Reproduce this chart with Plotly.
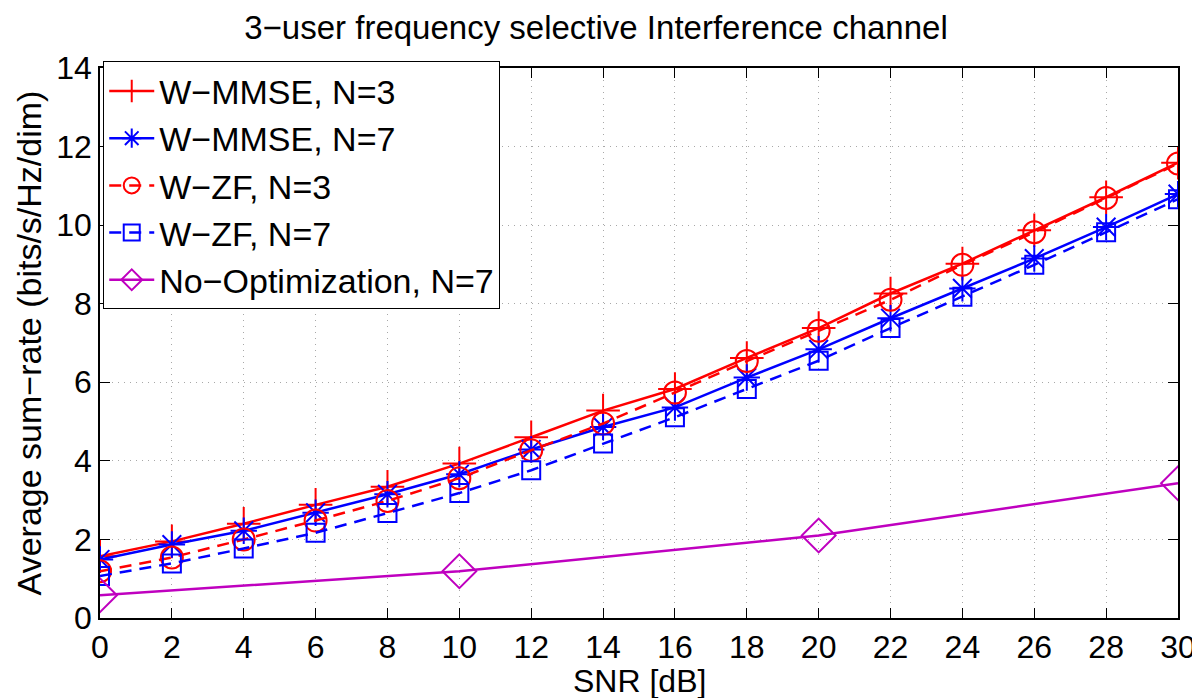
import plotly.graph_objects as go

# SNR points (dB)
snr = [0, 2, 4, 6, 8, 10, 12, 14, 16, 18, 20, 22, 24, 26, 28, 30]
snr_noopt = [0, 10, 20, 30]

# average sum-rate (bits/s/Hz/dim)
wmmse_n3 = [1.57, 1.95, 2.40, 2.88, 3.34, 3.93, 4.60, 5.28, 5.83, 6.62, 7.38, 8.26, 9.02, 9.87, 10.71, 11.59]
wmmse_n7 = [1.49, 1.87, 2.22, 2.68, 3.15, 3.66, 4.29, 4.86, 5.36, 6.12, 6.84, 7.63, 8.39, 9.15, 9.95, 10.79]
wzf_n3 = [1.19, 1.54, 2.00, 2.48, 2.98, 3.56, 4.27, 4.95, 5.74, 6.54, 7.31, 8.10, 8.99, 9.82, 10.69, 11.57]
wzf_n7 = [1.07, 1.39, 1.77, 2.17, 2.67, 3.18, 3.76, 4.44, 5.11, 5.83, 6.55, 7.38, 8.18, 8.99, 9.82, 10.66]
noopt_n7 = [0.58, 1.19, 2.10, 3.43]

FONT = "Liberation Sans, Arial, Helvetica, sans-serif"
RED = "#ff0000"
BLUE = "#0000ff"
PURPLE = "#bf00bf"

fig = go.Figure()

# one trace per curve, same order as the legend
fig.add_trace(go.Scatter(x=snr, y=wmmse_n3, mode="lines+markers", name="W−MMSE, N=3",
                         line=dict(color=RED, width=2.5),
                         marker=dict(symbol="cross-thin-open", size=24, line=dict(color=RED, width=2))))
fig.add_trace(go.Scatter(x=snr, y=wmmse_n7, mode="lines+markers", name="W−MMSE, N=7",
                         line=dict(color=BLUE, width=2.5),
                         marker=dict(symbol="asterisk-open", size=22, line=dict(color=BLUE, width=2))))
fig.add_trace(go.Scatter(x=snr, y=wzf_n3, mode="lines+markers", name="W−ZF, N=3",
                         line=dict(color=RED, width=2.5, dash="12px,8px"),
                         marker=dict(symbol="circle-open", size=22, line=dict(color=RED, width=2))))
fig.add_trace(go.Scatter(x=snr, y=wzf_n7, mode="lines+markers", name="W−ZF, N=7",
                         line=dict(color=BLUE, width=2.5, dash="12px,8px"),
                         marker=dict(symbol="square-open", size=18, line=dict(color=BLUE, width=2))))
fig.add_trace(go.Scatter(x=snr_noopt, y=noopt_n7, mode="lines+markers", name="No−Optimization, N=7",
                         line=dict(color=PURPLE, width=2.5),
                         marker=dict(symbol="diamond-open", size=26, line=dict(color=PURPLE, width=2))))

axis_common = dict(
    showline=True, linecolor="black", linewidth=1.5, mirror="ticks",
    ticks="inside", ticklen=10, tickcolor="black", tickwidth=1,
    showgrid=True, gridcolor="#a8a8a8", gridwidth=1, griddash="1px,5px",
    zeroline=False, tickfont=dict(family=FONT, size=32, color="black"),
)

fig.update_xaxes(range=[0, 30], tickvals=snr, **axis_common)
fig.update_yaxes(range=[0, 14], tickvals=list(range(0, 15, 2)), **axis_common,
                 title=dict(text="Average sum−rate (bits/s/Hz/dim)",
                            font=dict(family=FONT, size=34, color="black"), standoff=4))

# x-axis label placed by hand so it fits under the tick labels
fig.add_annotation(text="SNR [dB]", xref="paper", yref="paper", x=0.5, y=0,
                   xanchor="center", yanchor="bottom", yshift=-83, showarrow=False,
                   font=dict(family=FONT, size=32, color="black"))

fig.update_layout(
    width=1200, height=698,
    paper_bgcolor="white", plot_bgcolor="white",
    margin=dict(l=92, r=22, t=60, b=88),
    title=dict(text="3−user frequency selective Interference channel",
               font=dict(family=FONT, size=33, color="black"),
               x=0.49, xanchor="center", yref="container", y=1.0, yanchor="top",
               pad=dict(t=8)),
    legend=dict(x=0.003, y=1.012, xanchor="left", yanchor="top",
                bgcolor="white", bordercolor="black", borderwidth=1,
                font=dict(family=FONT, size=34, color="black"),
                itemwidth=45, tracegroupgap=0),
    showlegend=True,
)

fig.write_html("out.html")
